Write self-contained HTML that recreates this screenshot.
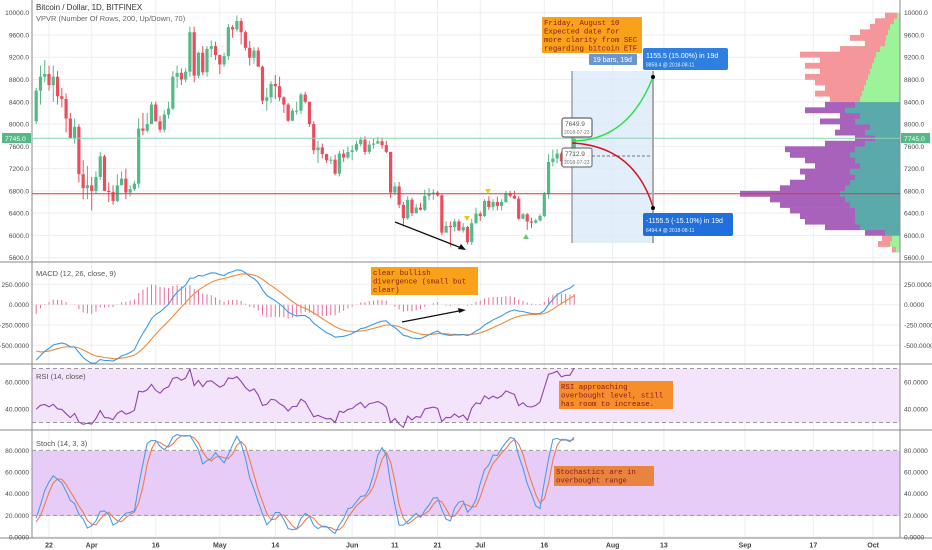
<!DOCTYPE html>
<html><head><meta charset="utf-8"><style>
html,body{margin:0;padding:0;background:#fff;}
svg{display:block;font-family:"Liberation Sans",sans-serif;}
.ax{font-size:6.6px;fill:#4a4a4a;}
.note{font-family:"Liberation Mono",monospace;font-size:7.4px;fill:#8b1a1a;}
</style></head><body>
<svg id="chart" width="932" height="550" viewBox="0 0 932 550" xmlns="http://www.w3.org/2000/svg">
<rect x="0" y="0" width="932" height="550" fill="#fff"/>
<g id="grid"></g>
<rect x="32" y="368.5" width="868" height="54" fill="#f4e4fb"/>
<rect x="32" y="451" width="868" height="65" fill="#e8ccf8"/>
<g id="vp"></g>
<rect x="572" y="71" width="81" height="172" fill="#dbeaf8" opacity="0.8"/>
<g id="marks"></g>
<g stroke="#8a8a8a" stroke-width="1">
<line x1="0" y1="262" x2="932" y2="262"/><line x1="0" y1="364" x2="932" y2="364"/>
<line x1="0" y1="430" x2="932" y2="430"/><line x1="0" y1="538" x2="932" y2="538"/>
<line x1="32" y1="0" x2="32" y2="538"/><line x1="900" y1="0" x2="900" y2="538"/>
</g>
<g id="labels"></g>
<line x1="32" y1="193.7" x2="900" y2="193.7" stroke="#e0363f" stroke-width="1"/>
<line x1="32" y1="138.3" x2="900" y2="138.3" stroke="#8fd1b0" stroke-width="1"/>
<line x1="572" y1="71" x2="572" y2="243" stroke="#777" stroke-width="1"/>
<line x1="653" y1="71" x2="653" y2="243" stroke="#aaa" stroke-width="2"/>
<line x1="572" y1="156" x2="651" y2="156" stroke="#777" stroke-dasharray="3,2"/>
<path d="M572,141 Q628,141 653,77" fill="none" stroke="#2ee04a" stroke-width="1.5"/>
<path d="M572,143 Q634,146 653,207" fill="none" stroke="#d8121e" stroke-width="1.5"/>
<circle cx="653" cy="77" r="2" fill="#000"/>
<circle cx="653" cy="208" r="2" fill="#000"/>
<line x1="395" y1="222" x2="464" y2="249" stroke="#111" stroke-width="1.3"/>
<path d="M466,250 L458,249 L461,244 Z" fill="#111"/>
<line x1="402" y1="322" x2="464" y2="310" stroke="#111" stroke-width="1.3"/>
<path d="M466,310 L459,313 L458,308 Z" fill="#111"/>
<path d="M464,216 L470,216 L467,221 Z" fill="#f5c518"/>
<path d="M485,189 L491,189 L488,194 Z" fill="#f5c518"/>
<path d="M523,239 L529,239 L526,234 Z" fill="#6cc76c"/>
<g><rect x="562" y="118" width="30" height="19" rx="2" fill="#fff" stroke="#666" stroke-width="1.2"/><text x="565" y="126" font-size="6.5" fill="#555">7649.9</text><text x="564" y="134" font-size="5" fill="#777">2018-07-23</text></g>
<g><rect x="562" y="148" width="30" height="19" rx="2" fill="#fff" stroke="#666" stroke-width="1.2" opacity="0.85"/><text x="565" y="156" font-size="6.5" fill="#555">7712.9</text><text x="564" y="164" font-size="5" fill="#777">2018-07-23</text></g>
<g><rect x="542" y="17" width="100" height="36" fill="#f9a11b"/><text class="note" x="544" y="25">Friday, August 10</text><text class="note" x="544" y="33.5">Expected date for</text><text class="note" x="544" y="42">more clarity from SEC</text><text class="note" x="544" y="50.5">regarding bitcoin ETF</text></g>
<g><rect x="589" y="54" width="48" height="11" rx="1" fill="#6a96cf"/><text x="593" y="62" font-size="7" fill="#fff">19 bars, 19d</text></g>
<g><rect x="643" y="48" width="85" height="22" rx="2" fill="#2f7fe0"/><text x="646" y="58" font-size="7" fill="#fff">1155.5 (15.00%) in 19d</text><text x="646" y="66.5" font-size="5" fill="#e8f0ff">8858.4  @ 2018-08-11</text></g>
<g><rect x="643" y="213" width="90" height="23" rx="2" fill="#1f6fdc"/><text x="646" y="223" font-size="7" fill="#fff">-1155.5 (-15.10%) in 19d</text><text x="646" y="232" font-size="5" fill="#e8f0ff">6494.4  @ 2018-08-11</text></g>
<g><rect x="371" y="267" width="107" height="28" fill="#f9a11b"/><text class="note" x="373" y="275">clear bullish</text><text class="note" x="373" y="283.5">divergence (small but</text><text class="note" x="373" y="292">clear)</text></g>
<g><rect x="559" y="381" width="114" height="28" fill="#f48f2c"/><text class="note" x="561" y="389">RSI approaching</text><text class="note" x="561" y="397.5">overbought level, still</text><text class="note" x="561" y="406">has room to increase.</text></g>
<g><rect x="554" y="466" width="100" height="20" fill="#e8843f"/><text class="note" x="556" y="474">Stochastics are in</text><text class="note" x="556" y="482.5">overbought range</text></g>
<text x="36" y="10" font-size="8" fill="#333">Bitcoin / Dollar, 1D, BITFINEX</text>
<text x="36" y="21" font-size="7.5" fill="#666">VPVR (Number Of Rows, 200, Up/Down, 70)</text>
<text x="36" y="276" font-size="7.5" fill="#555">MACD (12, 26, close, 9)</text>
<text x="36" y="379" font-size="7.5" fill="#555">RSI (14, close)</text>
<text x="36" y="446" font-size="7.5" fill="#555">Stoch (14, 3, 3)</text>
<g><rect x="2" y="133" width="29" height="10" fill="#53b987"/><text x="5" y="140.8" font-size="6.8" fill="#fff">7745.0</text></g>
<g><rect x="901" y="133" width="29" height="10" fill="#53b987"/><text x="904" y="140.8" font-size="6.8" fill="#fff">7745.0</text></g>
</svg>
<script>
const closes=[11200,10450,9800,10150,9650,9600,10300,10600,10300,
10950,11000,11450,11500,11450,10700,9900,9300,9230,8780,9530,9140,9150,8200,8250,8270,7870,8050,8600,8850,8900,8700,8850,8500,8450,8100,7750,7950,7100,6850,6900,
6800,7050,7420,6800,6780,6620,6900,7020,6770,6830,6930,7920,7880,8000,8350,8050,7900,8170,8280,8850,8920,8800,8940,9650,8870,9280,8930,9350,9400,9240,
9070,9220,9740,9700,9850,9650,9370,9190,9320,9030,8420,8480,8720,8680,8480,8350,8060,8240,8240,8530,8400,8000,7530,7580,7460,7350,7360,7110,7470,7400,7500,
7530,7640,7720,7500,7630,7650,7690,7620,7500,6770,6880,6550,6310,6640,6400,6500,6460,6710,6740,6770,6720,6050,6170,6150,6250,6090,6150,5880,6220,6390,
6350,6620,6510,6600,6530,6600,6760,6710,6660,6300,6380,6250,6230,6270,6350,6740,7320,7380,7470,7330,7400,7400,7745];
const highs=[11800,11300,10900,10400,10500,9900,10450,10900,11100,
11100,11100,11500,11700,11650,11700,10950,10150,9500,9500,9800,9900,9500,9450,8600,8700,8350,8300,8650,9050,9150,9050,9050,8950,8650,8550,8200,8100,8000,7350,7250,
7050,7150,7500,7450,6950,6900,7100,7150,7200,6900,6980,8100,8200,8200,8400,8400,8150,8250,8400,8950,9050,9000,9000,9750,9750,9300,9400,9400,9500,9480,
9250,9280,9800,9780,9950,9900,9680,9490,9380,9380,9050,8650,8770,8880,8850,8500,8380,8280,8400,8560,8580,8400,8050,7700,7650,7470,7420,7450,7520,7540,7600,
7620,7700,7770,7780,7700,7740,7770,7760,7700,7500,6950,6960,6600,6700,6680,6560,6590,6820,6850,6830,6800,6750,6250,6250,6300,6290,6220,6170,6300,6500,
6430,6650,6700,6650,6700,6650,6800,6800,6800,6700,6400,6400,6320,6300,6380,6780,7460,7540,7550,7500,7450,7550,7800];
const lows=[11100,10350,9700,9550,9550,9350,9400,10150,10250,
10200,10700,10800,11100,11050,10600,9800,9000,8350,8700,8500,8750,8850,8050,7650,7950,7750,7300,8000,8350,8750,8600,8400,8350,8300,7850,7750,7650,6950,6650,6650,
6450,6750,7000,6800,6600,6550,6600,6900,6650,6700,6800,6850,7800,7850,8000,8050,7850,7850,8100,8250,8650,8700,8750,8850,8750,8820,8880,8850,9200,9150,
8900,9030,9150,9550,9660,9430,9320,9050,9080,9050,8360,8240,8380,8450,8410,8200,8040,8050,8170,8180,8370,7950,7460,7300,7380,7300,7280,7080,7060,7320,7370,
7350,7500,7600,7450,7460,7560,7640,7560,7480,6670,6720,6490,6160,6280,6350,6390,6450,6440,6630,6640,6700,6000,6050,5800,6070,6080,6050,5840,5830,6210,
6260,6330,6460,6450,6450,6450,6580,6680,6660,6280,6290,6100,6130,6210,6250,6330,6660,7240,7300,7260,7300,7320,7380];
const vpPrices=[5700,5800,5900,6000,6100,6200,6300,6400,6500,6600,6700,6800,6900,7000,7100,7200,7300,7400,7500,7600,7700,7800,7900,8000,8100,8200,8300,8400,8500,8600,8700,8800,8900,9000,9100,9200,9300,9400,9500,9600,9700,9800,9900];
const vpTotal=[8,22,18,35,75,95,100,110,120,130,160,120,110,95,100,85,95,110,115,75,45,65,60,80,60,95,75,70,85,75,85,95,80,95,80,100,60,35,50,40,30,25,15];
const vpUp=[4,10,8,15,40,45,45,45,50,55,60,55,50,45,50,40,45,50,45,35,25,35,30,45,40,55,45,40,38,36,34,32,30,28,26,24,20,15,14,12,10,6,3];
const priceTicks=[5600,6000,6400,6800,7200,7600,8000,8400,8800,9200,9600,10000];
const macdTicks=[250,0,-250,-500];
const rsiTicks=[60,40];
const stochTicks=[80,60,40,20,0];
const dateLabels=['22','Apr','16','May','14','Jun','11','21','Jul','16','Aug','13','Sep','17','Oct'];
const dateOffsets=[0,10,25,40,53,71,81,91,101,116,132,144,163,179,193];

const NS='http://www.w3.org/2000/svg';
function mk(tag,attrs,parent){const e=document.createElementNS(NS,tag);for(const k in attrs)e.setAttribute(k,attrs[k]);parent.appendChild(e);return e;}
const X0=32,X1=900;
const xDay=d=>49+d*4.27;
const xIdx=i=>xDay(i-30);
const yP=p=>12.7+(10000-p)*245/4400;
const yM=v=>304.7-v*20.3/250;
const yR=v=>382-(v-60)*1.35;
const yS=v=>537-v*65/60;
const grid=document.getElementById('grid'),marks=document.getElementById('marks'),labels=document.getElementById('labels'),vp=document.getElementById('vp');

dateOffsets.forEach((d,k)=>{
  const x=xDay(d);
  const g=mk('line',{x1:x,y1:0,x2:x,y2:538,stroke:'#eceef2','stroke-width':1},grid);
  
  
  const t=mk('text',{x:x,y:547.5,'text-anchor':'middle','font-size':7,fill:'#444','font-weight':'bold'},labels);
  t.textContent=dateLabels[k];
  
  
});
function hTicks(ticks,yf,fmt,name){
  ticks.forEach(v=>{
    const y=yf(v);
    const g=mk('line',{x1:X0,y1:y,x2:X1,y2:y,stroke:'#eceef2','stroke-width':1},grid);
    
    
    const a=mk('text',{x:29,y:y+2.5,'text-anchor':'end',class:'ax'},labels);a.textContent=fmt(v);
    
    
    const b=mk('text',{x:904,y:y+2.5,class:'ax'},labels);b.textContent=fmt(v);
    
    
  });
}
hTicks(priceTicks,yP,v=>v.toFixed(1),'price');
hTicks(macdTicks,yM,v=>v.toFixed(4),'macd');
hTicks(rsiTicks,yR,v=>v.toFixed(4),'rsi');
hTicks(stochTicks,yS,v=>v.toFixed(4),'stoch');
[[yR(70),'rsi-upper-band'],[yR(30),'rsi-lower-band'],[yS(80),'stoch-upper-band'],[yS(20),'stoch-lower-band']].forEach(([y,n])=>{
  const l=mk('line',{x1:X0,y1:y,x2:X1,y2:y,stroke:'#999','stroke-dasharray':'4,3','stroke-width':1},marks);
  
  
});

const bh=100*245/4400;
vpPrices.forEach((p,k)=>{
  const inVA=p>=6000&&p<8400;
  const y=yP(p+100), tot=vpTotal[k], up=vpUp[k];
  const d=mk('rect',{x:X1-tot,y:y,width:tot-up,height:bh+0.3,fill:inVA?'#a862bb':'#f4969a'},vp);
  
  
  const u=mk('rect',{x:X1-up,y:y,width:up,height:bh+0.3,fill:inVA?'#5aa9ab':'#9df39a'},vp);
  
  
});

for(let i=1;i<closes.length;i++){
  const x=xIdx(i); if(x<X0+2) continue;
  const o=closes[i-1],c=closes[i],col=c>=o?'#53b987':'#eb4d5c';
  const w=mk('line',{x1:x,y1:yP(highs[i]),x2:x,y2:yP(lows[i]),stroke:col,'stroke-width':1},marks);
  
  
  const top=yP(Math.max(o,c)),bot=yP(Math.min(o,c));
  const b=mk('rect',{x:x-1.6,y:top,width:3.2,height:Math.max(1,bot-top),fill:col},marks);
  
  
}

function ema(a,n){const k=2/(n+1);const r=[a[0]];for(let i=1;i<a.length;i++)r.push(a[i]*k+r[i-1]*(1-k));return r;}
const e12=ema(closes,12),e26=ema(closes,26);
const macd=closes.map((_,i)=>e12[i]-e26[i]);
const sig=ema(macd,9);
const rsi=[];{let ag=0,al=0;for(let i=1;i<closes.length;i++){const ch=closes[i]-closes[i-1];const g=Math.max(ch,0),l=Math.max(-ch,0);if(i<=14){ag+=g/14;al+=l/14;}else{ag=(ag*13+g)/14;al=(al*13+l)/14;}rsi[i]=100-100/(1+ag/(al||1e-9));}}
const rawK=closes.map((c,i)=>{if(i<13)return null;let hh=-1e9,ll=1e9;for(let j=i-13;j<=i;j++){hh=Math.max(hh,highs[j]);ll=Math.min(ll,lows[j]);}return 100*(c-ll)/(hh-ll);});
const sma3=a=>a.map((v,i)=>(i<2||a[i]==null||a[i-1]==null||a[i-2]==null)?null:(a[i]+a[i-1]+a[i-2])/3);
const kS=sma3(rawK),dS=sma3(kS);

for(let i=0;i<closes.length;i++){
  const x=xIdx(i); if(x<X0+3) continue;
  const h=macd[i]-sig[i];
  const b=mk('line',{x1:x,y1:yM(0),x2:x,y2:yM(h),stroke:'#ea6d9b','stroke-width':1},marks);
  
  
}
function line(arr,yf,col,name){
  let d='';
  arr.forEach((v,i)=>{if(v==null)return;const x=xIdx(i);if(x<X0+1)return;d+=(d?'L':'M')+x.toFixed(1)+','+yf(v).toFixed(1);});
  const p=mk('path',{d:d,fill:'none',stroke:col,'stroke-width':1.1},marks);
  
  
}
line(sig,yM,'#f08a3a','macd-signal-line');
line(macd,yM,'#3a9ae8','macd-line');
line(rsi,yR,'#8e44ad','rsi-line');
line(dS,yS,'#f07a50','stoch-d-line');
line(kS,yS,'#4f9be6','stoch-k-line');
</script>
</body></html>
